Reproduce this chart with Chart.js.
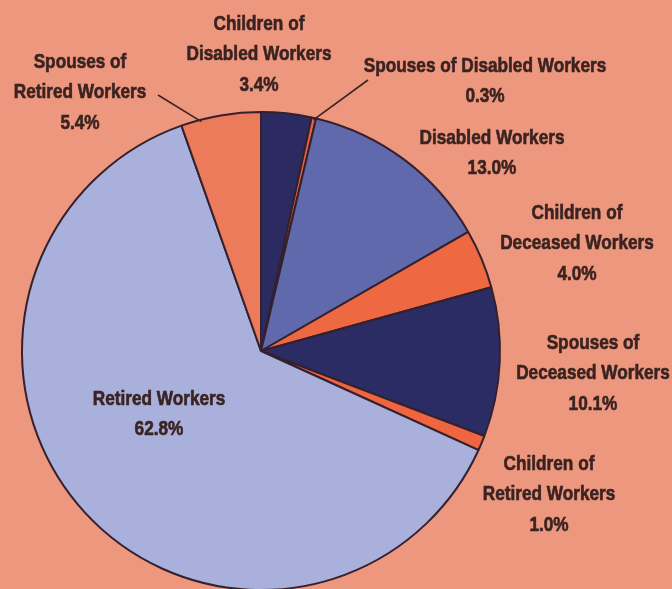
<!DOCTYPE html>
<html>
<head>
	<meta charset="utf-8">
	<title>Beneficiaries pie</title>
	<script src="https://cdn.jsdelivr.net/npm/chart.js@4.4.0/dist/chart.umd.min.js"></script>
	<style>
		html, body { margin: 0; padding: 0; overflow: hidden; background: #ed977f; }
		#wrap { position: absolute; left: 0; top: 0; width: 672px; height: 700px; }
	</style>
</head>
<body>
<div id="wrap"><canvas id="pie"></canvas></div>
<script>
	// slices, clockwise from 12 o'clock
	const categories = [
		'Children of Disabled Workers',
		'Spouses of Disabled Workers',
		'Disabled Workers',
		'Children of Deceased Workers',
		'Spouses of Deceased Workers',
		'Children of Retired Workers',
		'Retired Workers',
		'Spouses of Retired Workers'
	];
	const shares = [3.4, 0.3, 13.0, 4.0, 10.1, 1.0, 62.8, 5.4];
	const labelLines = [
		['Children of', 'Disabled Workers'],
		['Spouses of Disabled Workers'],
		['Disabled Workers'],
		['Children of', 'Deceased Workers'],
		['Spouses of', 'Deceased Workers'],
		['Children of', 'Retired Workers'],
		['Retired Workers'],
		['Spouses of', 'Retired Workers']
	];

	const sliceColors = ['#2b2b62', '#ea6340', '#5f69ab', '#ee6842', '#2b2c63', '#ee6540', '#a8b0db', '#ec7b5c'];

	// where each label block sits (x centre, y of first line)
	const labelPos = [
		[259, 24], [485, 66], [492, 138], [577, 213],
		[593, 343], [549, 464], [159, 399], [80, 62]
	];
	// leader lines: [slice index, point near the label, fraction along the arc]
	const leaders = [
		[1, [368, 80], 0.5],
		[7, [158, 95], 0.25]
	];

	const labelPlugin = {
		id: 'sliceLabels',
		afterDraw(chart) {
			const ctx = chart.ctx;
			const arcs = chart.getDatasetMeta(0).data;
			ctx.save();
			ctx.strokeStyle = '#3b2320';
			ctx.lineWidth = 1.6;
			leaders.forEach(([i, end, f]) => {
				const a = arcs[i];
				const ang = a.startAngle + (a.endAngle - a.startAngle) * f;
				const r = a.outerRadius - 2;
				ctx.beginPath();
				ctx.moveTo(a.x + Math.cos(ang) * r, a.y + Math.sin(ang) * r);
				ctx.lineTo(end[0], end[1]);
				ctx.stroke();
			});
			ctx.fillStyle = '#3a2321';
			ctx.strokeStyle = '#3a2321';
			ctx.lineWidth = 0.6;
			ctx.font = 'bold 20px "Liberation Sans", Arial, sans-serif';
			ctx.textAlign = 'center';
			ctx.textBaseline = 'middle';
			labelLines.forEach((lines, i) => {
				const rows = lines.concat([shares[i].toFixed(1) + '%']);
				const [x, y] = labelPos[i];
				rows.forEach((t, k) => {
					ctx.save();
					ctx.translate(x, y + k * 30.5);
					ctx.scale(0.86, 1);
					ctx.fillText(t, 0, 0);
					ctx.strokeText(t, 0, 0);
					ctx.restore();
				});
			});
			ctx.restore();
		}
	};

	new Chart(document.getElementById('pie'), {
		type: 'pie',
		data: {
			labels: categories,
			datasets: [{
				data: shares,
				backgroundColor: sliceColors,
				borderColor: '#35202e',
				borderWidth: 2
			}]
		},
		options: {
			responsive: true,
			maintainAspectRatio: false,
			animation: false,
			layout: { padding: { left: 21, right: 171, top: 111, bottom: 109 } },
			plugins: {
				legend: { display: false },
				tooltip: { enabled: false }
			}
		},
		plugins: [labelPlugin]
	});
</script>
</body>
</html>
